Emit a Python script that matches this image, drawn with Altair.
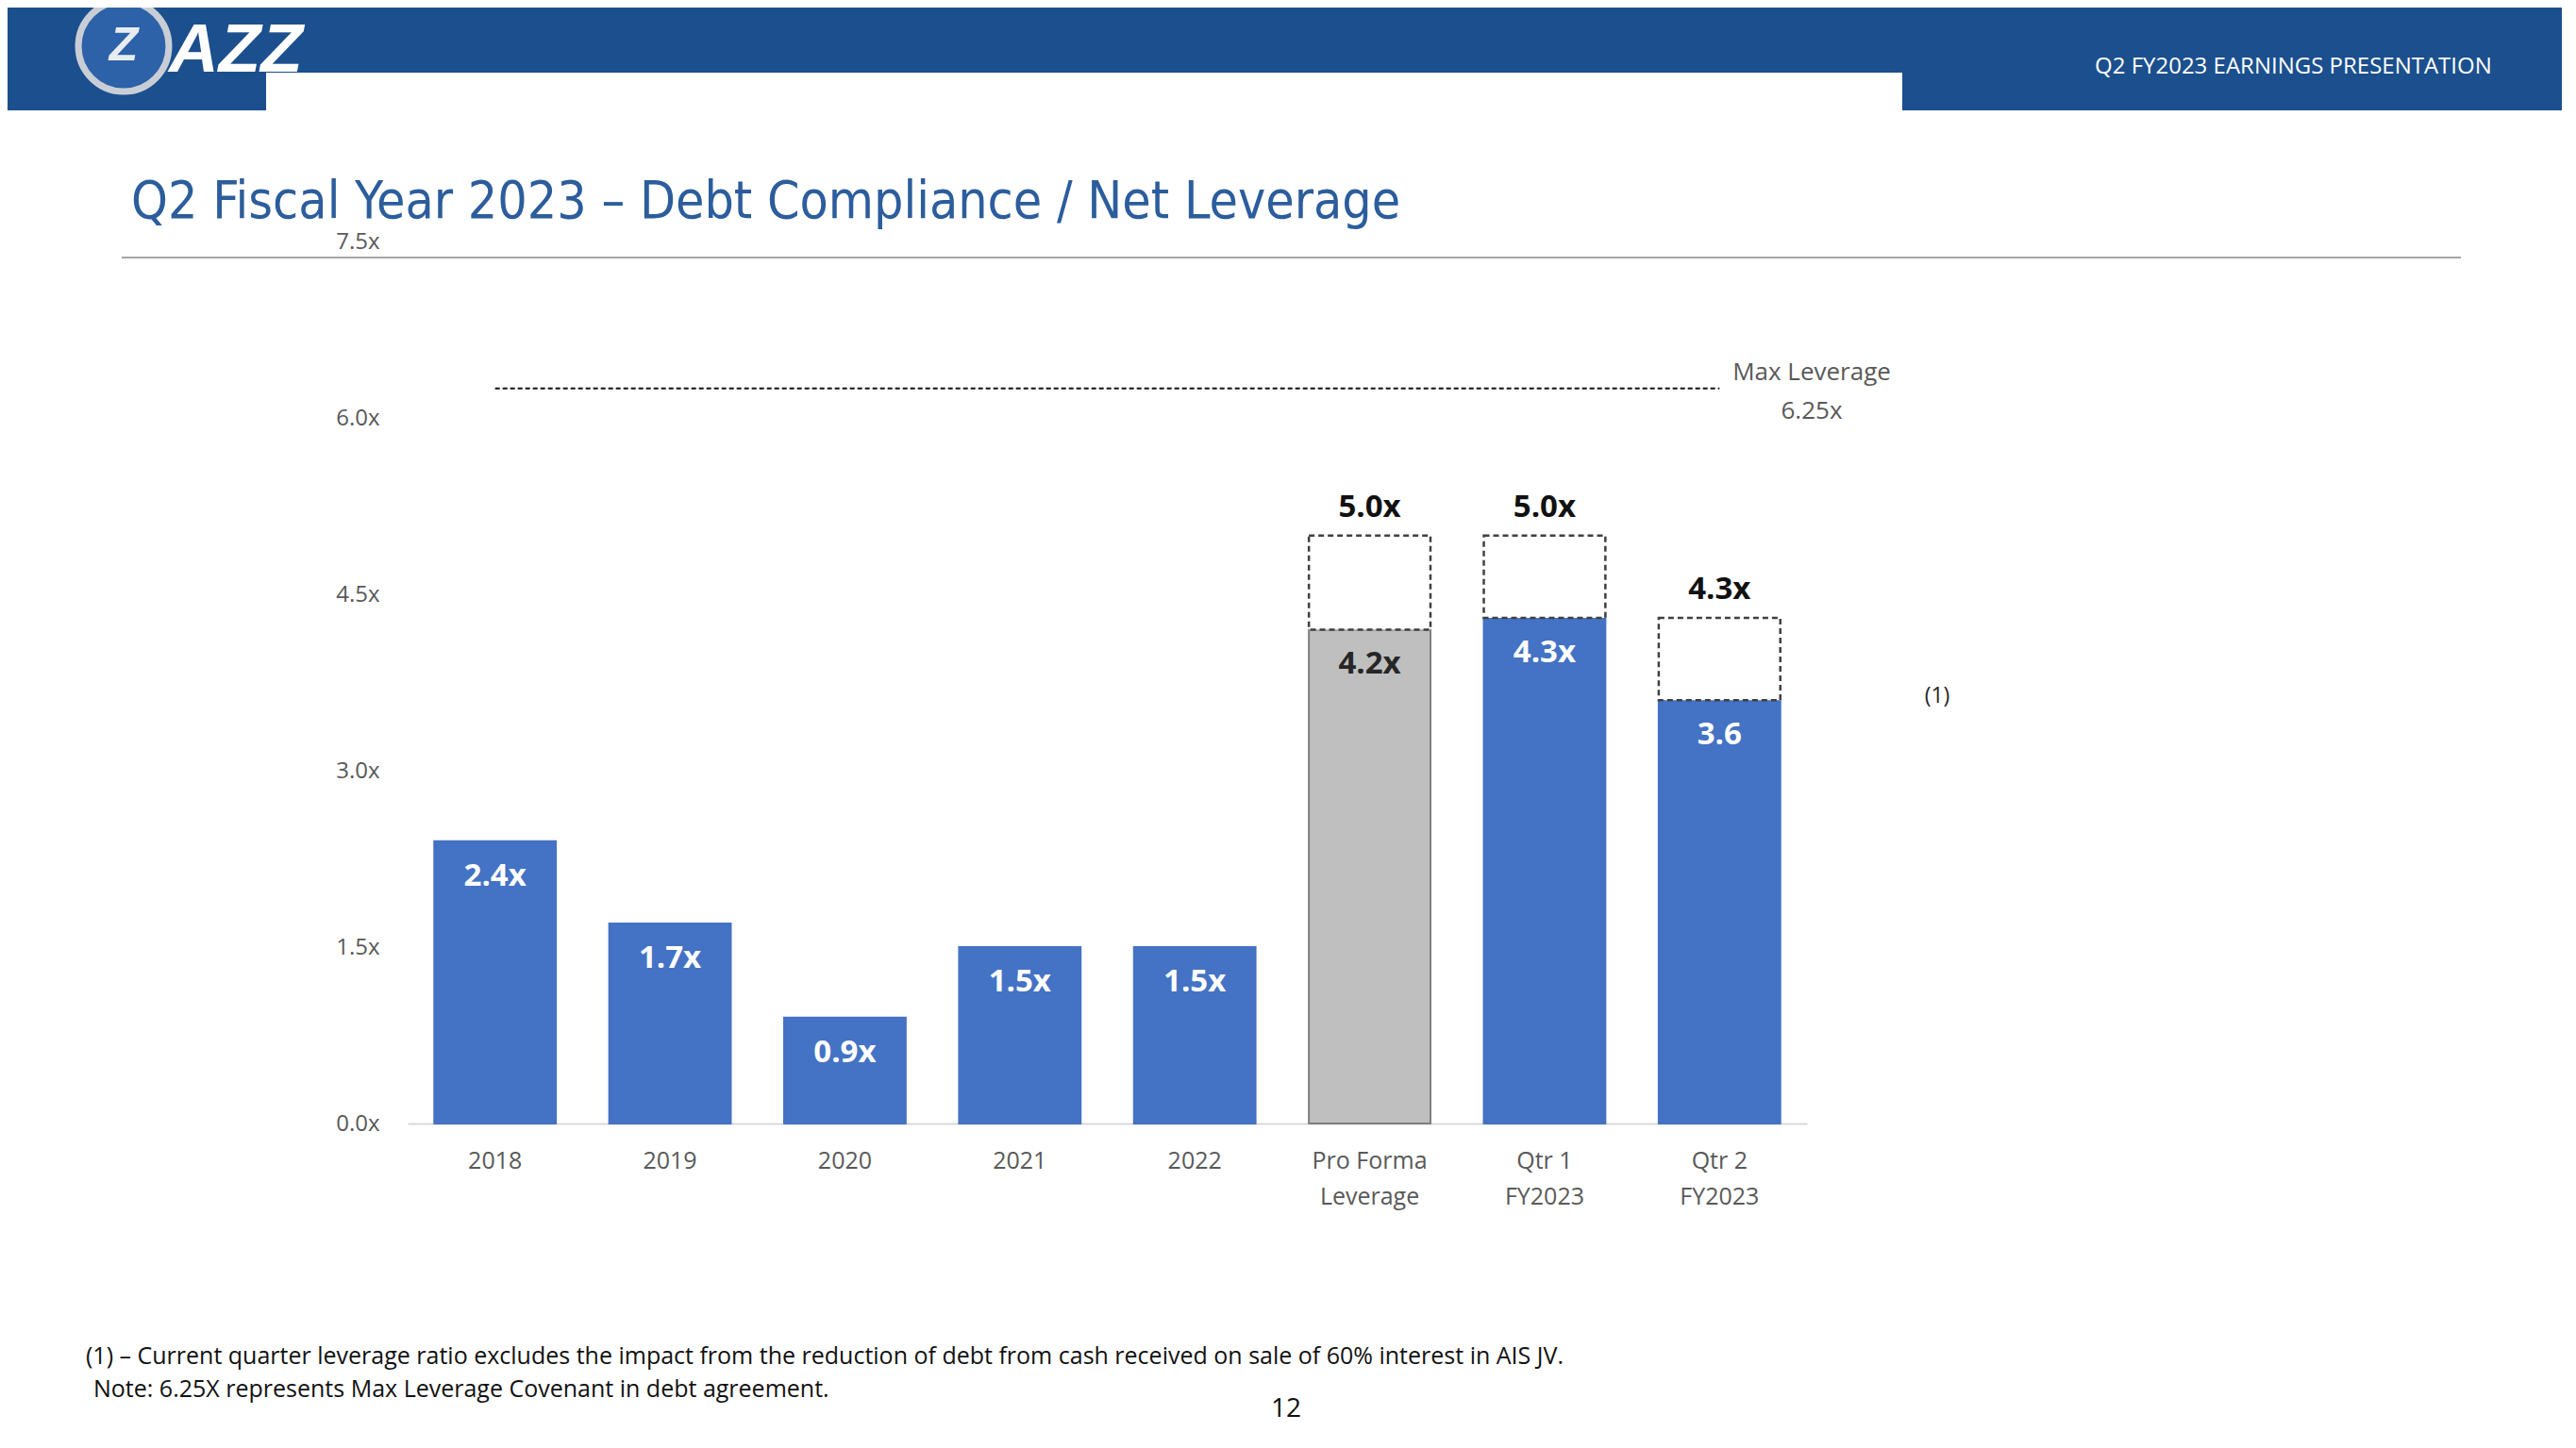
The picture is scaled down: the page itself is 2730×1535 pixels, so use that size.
import altair as alt
import pandas as pd

# ---------------- data ----------------
categories = ["2018", "2019", "2020", "2021", "2022",
              "Pro Forma|Leverage", "Qtr 1|FY2023", "Qtr 2|FY2023"]
values = [2.4, 1.7, 0.9, 1.5, 1.5, 4.2, 4.3, 3.6]
bar_labels = ["2.4x", "1.7x", "0.9x", "1.5x", "1.5x", "4.2x", "4.3x", "3.6"]
bar_kind = ["Actual", "Actual", "Actual", "Actual", "Actual",
            "Pro Forma", "Actual", "Actual"]

box_categories = ["Pro Forma|Leverage", "Qtr 1|FY2023", "Qtr 2|FY2023"]
box_bottoms = [4.2, 4.3, 3.6]
box_tops = [5.0, 5.0, 4.3]
box_labels = ["5.0x", "5.0x", "4.3x"]

max_leverage = 6.25
max_leverage_text = "Max Leverage\n6.25x"
y_ticks = [0, 1.5, 3.0, 4.5, 6.0, 7.5]

title_text = "Q2 Fiscal Year 2023 \u2013 Debt Compliance / Net Leverage"
header_text = "Q2 FY2023 EARNINGS PRESENTATION"
footnote_1 = ("(1) \u2013 Current quarter leverage ratio excludes the impact from the "
              "reduction of debt from cash received on sale of 60% interest in AIS JV.")
footnote_2 = "Note: 6.25X represents Max Leverage Covenant in debt agreement."
page_number = "12"

# ---------------- styling ----------------
BLUE = "#4472C4"
GREY = "#BFBFBF"
HEADER = "#1B4F8E"
TITLE_BLUE = "#2C5D9C"
BODY_FONT = "Open Sans"
TITLE_FONT = "DejaVu Sans Condensed, Liberation Sans Narrow, Lato"

W, H = 1483, 935

bars_df = pd.DataFrame({
    "cat": categories,
    "value": values,
    "label": bar_labels,
    "kind": bar_kind,
    "label_color": ["#262626" if k == "Pro Forma" else "#FFFFFF" for k in bar_kind],
})
box_df = pd.DataFrame({"cat": box_categories, "bottom": box_bottoms,
                       "top": box_tops, "label": box_labels})
max_df = pd.DataFrame({"x": [categories[0]], "x2": [categories[-1]],
                       "y": [max_leverage], "t": [max_leverage_text]})

x_scale = alt.Scale(domain=categories, paddingInner=0.305, paddingOuter=0.1525)
y_scale = alt.Scale(domain=[0, 7.5], nice=False, zero=True)

x_axis = alt.Axis(title=None, labelExpr="split(datum.value, '|')", labelAngle=0,
                  domainColor="#D9D9D9", domainWidth=2, ticks=False, grid=False,
                  labelPadding=27, labelFont=BODY_FONT, labelFontSize=25,
                  labelColor="#595959", labelLineHeight=38, labelBaseline="top")
y_axis = alt.Axis(title=None, values=y_ticks,
                  labelExpr="format(datum.value, '.1f') + 'x'",
                  domain=False, ticks=False, grid=False, labelPadding=30,
                  labelFont=BODY_FONT, labelFontSize=24, labelColor="#595959")

bars = alt.Chart(bars_df).mark_bar(strokeWidth=2).encode(
    x=alt.X("cat:N", scale=x_scale, sort=categories, axis=x_axis),
    y=alt.Y("value:Q", scale=y_scale, axis=y_axis),
    fill=alt.Fill("kind:N", scale=alt.Scale(domain=["Actual", "Pro Forma"],
                                             range=[BLUE, GREY]), legend=None),
    stroke=alt.Stroke("kind:N", scale=alt.Scale(domain=["Actual", "Pro Forma"],
                                                 range=[BLUE, "#7F7F7F"]), legend=None),
)

boxes = alt.Chart(box_df).mark_bar(fill="white", stroke="#404040",
                                   strokeDash=[6, 4], strokeWidth=2.5).encode(
    x=alt.X("cat:N", scale=x_scale, sort=categories),
    y=alt.Y("top:Q", scale=y_scale),
    y2="bottom:Q",
)

bar_text = alt.Chart(bars_df).mark_text(font=BODY_FONT, fontWeight="bold",
                                        fontSize=33, baseline="middle", dy=37).encode(
    x=alt.X("cat:N", scale=x_scale, sort=categories),
    y=alt.Y("value:Q", scale=y_scale),
    text="label:N",
    color=alt.Color("label_color:N", scale=None),
)

box_text = alt.Chart(box_df).mark_text(font=BODY_FONT, fontWeight="bold",
                                       fontSize=33, baseline="middle", dy=-30,
                                       color="#111111").encode(
    x=alt.X("cat:N", scale=x_scale, sort=categories),
    y=alt.Y("top:Q", scale=y_scale),
    text="label:N",
)

max_rule = alt.Chart(max_df).mark_rule(color="#111111", strokeDash=[5, 3],
                                       strokeWidth=2).encode(
    x=alt.X("x:N", scale=x_scale, sort=categories),
    x2="x2:N",
    y=alt.Y("y:Q", scale=y_scale),
)

max_text = alt.Chart(max_df).mark_text(font=BODY_FONT, fontSize=26, color="#595959",
                                       lineBreak="\n", lineHeight=41, dy=-17,
                                       baseline="middle", align="center").encode(
    x=alt.value(1488),
    y=alt.Y("y:Q", scale=y_scale),
    text="t:N",
)

one = pd.DataFrame({"k": [0]})


def deco_rect(x, x2, y, y2, color):
    return alt.Chart(one).mark_rect(color=color).encode(
        x=alt.value(x), x2=alt.value(x2), y=alt.value(y), y2=alt.value(y2))


def deco_text(txt, x, y, size, color, font=BODY_FONT, align="left",
              baseline="alphabetic", weight="normal", style="normal"):
    d = pd.DataFrame({"t": [txt]})
    return alt.Chart(d).mark_text(font=font, fontSize=size, color=color, align=align,
                                  baseline=baseline, fontWeight=weight,
                                  fontStyle=style).encode(
        x=alt.value(x), y=alt.value(y), text="t:N")


# plot origin sits at page (432, 256)
header_full = deco_rect(-432, 2298, -256, -179, HEADER)
header_left = deco_rect(-432, -150, -179, -139, HEADER)
header_right = deco_rect(1584, 2298, -179, -139, HEADER)
rule_line = deco_rect(-303, 2176, 16, 18, "#A6A6A6")

logo = alt.Chart(one).mark_circle(size=9200, fill="#2D62A8", fillOpacity=1,
                                  stroke="#C9CED6", strokeWidth=7, opacity=1).encode(
    x=alt.value(-301), y=alt.value(-207))
logo_z = deco_text("Z", -301, -207, 50, "#E8ECF2", font="Liberation Sans",
                   align="center", baseline="middle", weight="bold", style="italic")
logo_text = deco_text("AZZ", -253, -180, 73, "#FFFFFF", font="Liberation Sans",
                      weight="bold", style="italic")
head_text = deco_text(header_text, 1788, -185, 24, "#FFFFFF", baseline="middle")
title = deco_text(title_text, -293, -25, 55, TITLE_BLUE, font=TITLE_FONT)
fn1 = deco_text(footnote_1, -341, 1182, 25, "#111111", baseline="middle")
fn2 = deco_text(footnote_2, -333, 1217, 25, "#111111", baseline="middle")
page = deco_text(page_number, 931, 1238, 28, "#111111", align="center",
                 baseline="middle")
note_mark = deco_text("(1)", 1621, 482, 23, "#262626", align="center",
                      baseline="middle")

chart = alt.layer(
    header_full, header_left, header_right, logo, logo_z, logo_text, head_text,
    title, rule_line,
    bars, boxes, bar_text, box_text, max_rule, max_text, note_mark,
    fn1, fn2, page,
).properties(
    width=W, height=H,
    autosize=alt.AutoSizeParams(type="none"),
    padding={"left": 424, "top": 248, "right": 800, "bottom": 330},
    background="white",
).configure_view(stroke=None)

chart.save("out.html", embed_options={"renderer": "svg", "actions": False})
